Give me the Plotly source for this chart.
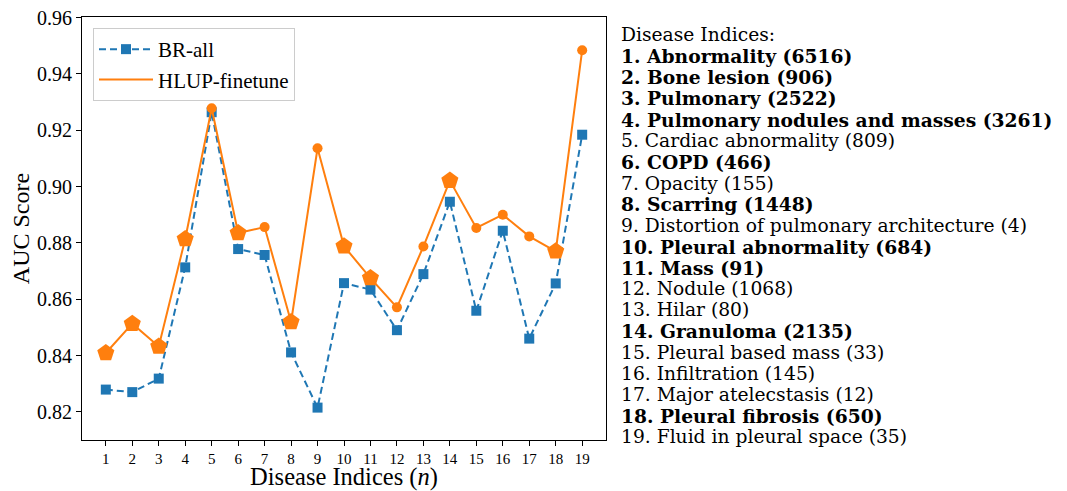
import plotly.graph_objects as go

indices = list(range(1, 20))
br_all = [0.8279, 0.8270, 0.8318, 0.8713, 0.9264, 0.8778, 0.8757, 0.8411, 0.8215, 0.8657,
          0.8634, 0.8490, 0.8689, 0.8946, 0.8559, 0.8843, 0.8460, 0.8656, 0.9184]
hlup = [0.8409, 0.8513, 0.8432, 0.8814, 0.9278, 0.8835, 0.8856, 0.8519, 0.9136, 0.8788,
        0.8675, 0.8571, 0.8787, 0.9021, 0.8853, 0.8900, 0.8823, 0.8770, 0.9484]
bold_idx = [1, 2, 3, 4, 6, 8, 10, 11, 14, 18]
disease_names = ["Abnormality", "Bone lesion", "Pulmonary", "Pulmonary nodules and masses",
                 "Cardiac abnormality", "COPD", "Opacity", "Scarring",
                 "Distortion of pulmonary architecture", "Pleural abnormality", "Mass", "Nodule",
                 "Hilar", "Granuloma", "Pleural based mass", "Infiltration", "Major atelecstasis",
                 "Pleural fibrosis", "Fluid in pleural space"]
disease_counts = [6516, 906, 2522, 3261, 809, 466, 155, 1448, 4, 684, 91, 1068, 80, 2135, 33,
                  145, 12, 650, 35]
y_ticks = [0.82, 0.84, 0.86, 0.88, 0.90, 0.92, 0.94, 0.96]

BLUE = "#1f77b4"
ORANGE = "#ff7f0e"
FONT = "Liberation Serif, serif"
TFONT = "DejaVu Serif, serif"

# page body has an 8px default margin: work in figure coordinates = reference - 8
OFF = 8
W, Hh = 1067 - OFF, 491 - OFF
L, R, T, B = 82 - OFF, 606 - OFF, 17 - OFF, 440 - OFF
PH = B - T

def ypaper(ref_pix):
    return (B - (ref_pix - OFF)) / PH

def xpaper(ref_pix):
    return ((ref_pix - OFF) - L) / (R - L)

fig = go.Figure()
fig.add_trace(go.Scatter(x=indices, y=br_all, mode="lines+markers", name="BR-all",
                         line=dict(color=BLUE, width=2, dash="7px,4px"),
                         marker=dict(symbol="square", size=10, color=BLUE)))
fig.add_trace(go.Scatter(x=indices, y=hlup, mode="lines", name="HLUP-finetune",
                         line=dict(color=ORANGE, width=2)))
px_ = [i for i in indices if i in bold_idx]
py_ = [hlup[i - 1] for i in px_]
cx_ = [i for i in indices if i not in bold_idx]
cy_ = [hlup[i - 1] for i in cx_]
fig.add_trace(go.Scatter(x=cx_, y=cy_, mode="markers", showlegend=False,
                         marker=dict(symbol="circle", size=10, color=ORANGE)))
fig.add_trace(go.Scatter(x=px_, y=py_, mode="markers", showlegend=False,
                         marker=dict(symbol="pentagon", size=18, color=ORANGE)))

TXT = 18.7
xa = xpaper(619)
fig.add_annotation(text="Disease Indices:", xref="paper", yref="paper", x=xa, y=ypaper(35),
                   xanchor="left", yanchor="middle", showarrow=False,
                   font=dict(family=TFONT, size=TXT, color="black"))
for k, (name, cnt) in enumerate(zip(disease_names, disease_counts)):
    i = k + 1
    txt = f"{i}. {name} ({cnt})"
    if i in bold_idx:
        txt = f"<b>{i}. {name} ({cnt})</b>"
    fig.add_annotation(text=txt, xref="paper", yref="paper", x=xa,
                       y=ypaper(35 + 21.15 * i), xanchor="left", yanchor="middle",
                       showarrow=False, font=dict(family=TFONT, size=TXT, color="black"))

fig.update_layout(
    width=W, height=Hh,
    margin=dict(l=L, r=W - R, t=T, b=Hh - B, autoexpand=False),
    plot_bgcolor="white", paper_bgcolor="white",
    font=dict(family=FONT, color="black"),
    showlegend=True,
    legend=dict(x=xpaper(93), y=ypaper(28), xanchor="left", yanchor="top",
                bgcolor="rgba(255,255,255,0.9)", bordercolor="#cccccc", borderwidth=1,
                font=dict(family=FONT, size=21), tracegroupgap=0, itemwidth=54),
    xaxis=dict(range=[0.1, 19.9], tickmode="array", tickvals=indices,
               ticktext=[str(i) for i in indices], showline=True, mirror=True,
               linecolor="black", linewidth=1.2, ticks="outside", ticklen=5,
               tickcolor="black", showgrid=False, zeroline=False, automargin=True,
               tickfont=dict(family=FONT, size=15),
               title=dict(text="Disease Indices (<i>n</i>)", font=dict(family=FONT, size=24.5),
                          standoff=4)),
    yaxis=dict(range=[0.81, 0.9602], tickmode="array", tickvals=y_ticks,
               ticktext=[f"{v:.2f}" for v in y_ticks], showline=True, mirror=True,
               linecolor="black", linewidth=1.2, ticks="outside", ticklen=5,
               tickcolor="black", showgrid=False, zeroline=False, automargin=False,
               ticklabeloverflow="allow",
               tickfont=dict(family=FONT, size=20),
               title=dict(text="AUC Score", font=dict(family=FONT, size=24), standoff=4)),
)

fig.write_html("out.html")
